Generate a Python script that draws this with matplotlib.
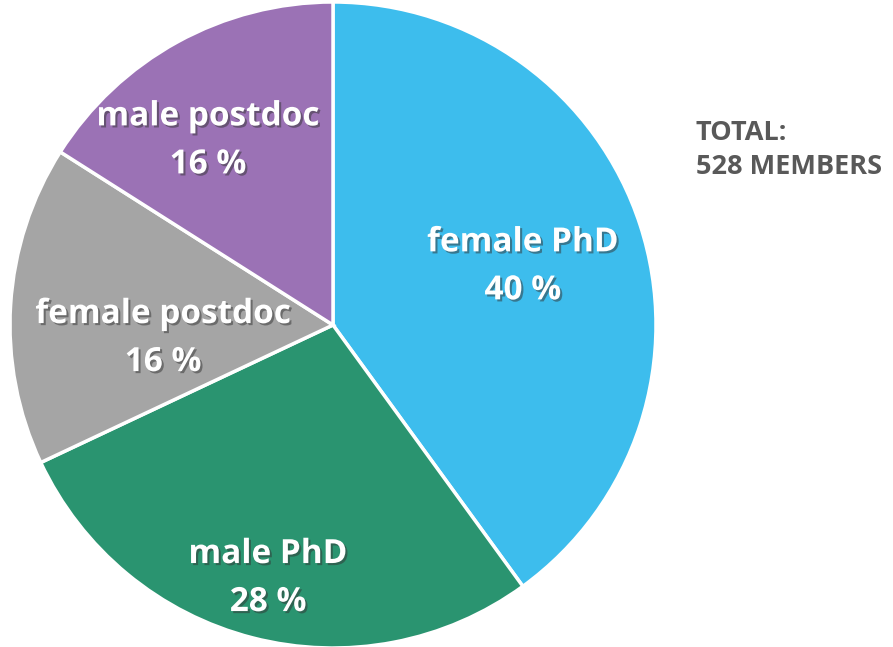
import matplotlib.pyplot as plt
import matplotlib.patheffects as pe

groups = ["female PhD", "male PhD", "female postdoc", "male postdoc"]
shares = [40, 28, 16, 16]
colors = ["#3DBDED", "#2A9470", "#A5A5A5", "#9B72B5"]
total_members = 528

# where each label sits, in units of the pie radius
label_pos = [(0.588, 0.180), (-0.201, -0.785), (-0.526, -0.042), (-0.387, 0.570)]

plt.rcParams['font.family'] = ['Open Sans', 'DejaVu Sans']

fig = plt.figure(figsize=(8.93, 6.47), dpi=100)
ax = fig.add_axes([10 / 893, -1 / 647, 646 / 893, 646 / 647])

wedges, _ = ax.pie(shares, colors=colors, startangle=90, counterclock=False,
                   wedgeprops=dict(edgecolor="white", linewidth=2.5))
ax.set_xlim(-1, 1)
ax.set_ylim(-1, 1)
ax.set_aspect("equal")
ax.axis("off")

shadow = [pe.SimplePatchShadow(offset=(1.5, -1.5), shadow_rgbFace="#333333", alpha=0.5),
          pe.Normal()]
for name, val, (x, y) in zip(groups, shares, label_pos):
    ax.text(x, y, f"{name}\n{val} %",
            ha="center", va="center", color="white", fontsize=24,
            fontweight="bold", linespacing=1.6, path_effects=shadow)

fig.text(696 / 893, 1 - 150 / 647, f"TOTAL:\n{total_members} MEMBERS",
         ha="left", va="center", color="#595959", fontsize=19.5,
         fontweight="bold", linespacing=1.38)

fig.savefig("out.png", dpi=100)
